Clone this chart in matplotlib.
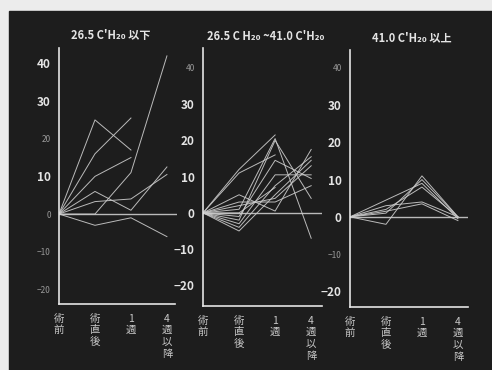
import numpy as np
import matplotlib
matplotlib.use('Agg')
import matplotlib.pyplot as plt
from matplotlib.patches import Rectangle

plt.rcParams['font.family'] = ['Noto Sans CJK JP', 'DejaVu Sans']

# ---- data -------------------------------------------------------------
stages = ['術前', '術直後', '1週', '4週以降']
titles = ["26.5 C'H₂₀ 以下", "26.5 C H₂₀ ~41.0 C'H₂₀", "41.0 C'H₂₀ 以上"]
yticks = [-20, -10, 0, 10, 20, 30, 40]
ytick_labels = ['−20', '−10', '0', '10', '20', '30', '40']

nan = np.nan
low_group = [
    [0, 25, 17, nan],
    [0, 16, 25.5, nan],
    [0, 10, 15, nan],
    [0, 0, 11, 42],
    [0, 6, 1, 12.5],
    [0, 3.3, 4, 10.5],
    [0, -3, -1, -6],
]
mid_group = [
    [0, 12, 21.5, nan],
    [0, 11, 16, nan],
    [0, 1, 20.5, -7],
    [0, -2, 20, 4],
    [0, 5, 0.5, 17.5],
    [0, -1, 14.5, 9.5],
    [0, -3, 10.5, 10.5],
    [0, -4, 7.5, 15.5],
    [0, -5, 5, 14.5],
    [0, 2, 4, 13],
    [0, 0, 7, nan],
    [0, 3, 3, 7.5],
]
high_group = [
    [0, -2, 11, 0],
    [0, 1, 10, 0],
    [0, 4.5, 9, -0.5],
    [0, 2, 8, 0],
    [0, 3, 4, 0],
    [0, 1.5, 3.5, -1],
]
groups = [low_group, mid_group, high_group]

# ---- styling -----------------------------------------------------------
W, H = 492, 370
fig = plt.figure(figsize=(W / 100, H / 100), dpi=100)
fig.patch.set_facecolor('#ececec')
bg = fig.add_axes([0, 0, 1, 1], zorder=0)
bg.set_axis_off()
bg.set_xlim(0, 1)
bg.set_ylim(0, 1)
bg.add_patch(Rectangle((9 / W, 0), 1 - 9 / W, 1 - 11 / H, color='#1d1d1d'))

LINE = '#cccccc'
BRIGHT = '#e4e4e4'
FAINT = '#999999'

# axes boxes in pixels: left, right, top, bottom
boxes = [(59, 177, 48, 304), (203, 322, 48, 306), (350, 468, 50, 307)]
ylims = [(-23.9, 44.1), (-25.7, 45.5), (-24.2, 44.8)]
xright = [3.28, 3.3, 3.28]
label_styles = [
    ['F', 'F', 'F', 'B', 'F', 'B', 'B'],
    ['B', 'B', 'B', 'B', 'B', 'B', 'F'],
    ['B', 'F', 'B', 'B', 'B', 'B', 'F'],
]
title_pos = [(111, 36), (266, 36), (412, 38)]
spine_right = [175, 322, 468]

for i, data in enumerate(groups):
    l, r, t, b = boxes[i]
    ax = fig.add_axes([l / W, 1 - b / H, (r - l) / W, (b - t) / H], zorder=2)
    ax.set_facecolor('none')
    ax.set_xlim(0, xright[i])
    ax.set_ylim(*ylims[i])
    ax.axhline(0, color=LINE, lw=1.0, alpha=0.9)
    x = np.arange(len(stages))
    for row in data:
        ax.plot(x, row, color=LINE, lw=0.7, alpha=0.9)
    for s in ['top', 'right']:
        ax.spines[s].set_visible(False)
    for s in ['left', 'bottom']:
        ax.spines[s].set_color(BRIGHT)
        ax.spines[s].set_linewidth(1.2)
    ax.spines['bottom'].set_bounds(0, (spine_right[i] - l) / 36.0)
    ax.set_yticks(yticks)
    ax.set_yticklabels(ytick_labels)
    for lab, st in zip(ax.get_yticklabels(), label_styles[i]):
        if st == 'B':
            lab.set_color(BRIGHT)
            lab.set_fontsize(8.5)
            lab.set_fontweight('bold')
        else:
            lab.set_color(FAINT)
            lab.set_fontsize(6)
    ax.tick_params(axis='y', length=0, pad=6)
    ax.set_xticks(x)
    ax.set_xticklabels(['\n'.join(s) for s in stages], color='#c8c8c8',
                       fontsize=7.5, linespacing=1.2)
    ax.tick_params(axis='x', length=0, pad=7)
    tx, ty = title_pos[i]
    fig.text(tx / W, 1 - ty / H, titles[i], color=BRIGHT, fontsize=8,
             fontweight='bold', ha='center', va='center', zorder=3)

fig.savefig('out.png', dpi=100, facecolor=fig.get_facecolor())
